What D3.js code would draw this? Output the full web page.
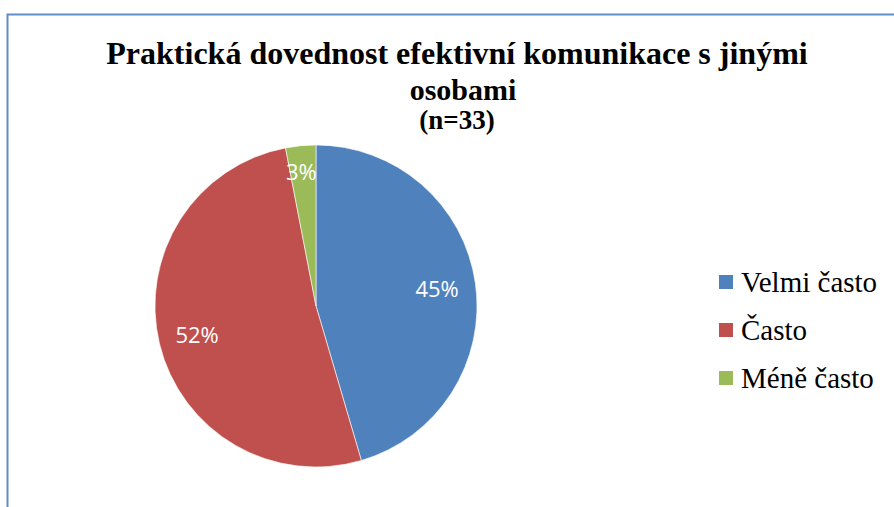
<!DOCTYPE html>
<html>
<head>
<meta charset="utf-8">
<title>Praktická dovednost efektivní komunikace s jinými osobami</title>
<script src="https://cdnjs.cloudflare.com/ajax/libs/d3/7.8.5/d3.min.js"></script>
<style>
    body { margin: 0; background: #fff; }
</style>
</head>
<body>
<div id="chart"></div>
<script>
// data
var categories = ["Velmi často", "Často", "Méně často"];
var counts = [15, 17, 1];          // n = 33
var percentLabels = ["45%", "52%", "3%"];
var colors = ["#4F81BD", "#C0504D", "#9BBB59"];
var titleLines = ["Praktická dovednost efektivní komunikace s jinými", "osobami"];
var subtitle = "(n=33)";

var width = 894, height = 507;
var serif = "'Liberation Serif', 'Times New Roman', Times, serif";

var svg = d3.select("#chart")
    .append("svg")
    .attr("width", width)
    .attr("height", height);

// chart frame (runs off the right and bottom edge like in the picture)
svg.append("rect")
    .attr("x", 7.5)
    .attr("y", 14.5)
    .attr("width", 900)
    .attr("height", 520)
    .attr("fill", "#fff")
    .attr("stroke", "#5f8ec8")
    .attr("stroke-width", 2);

// title
svg.append("text")
    .attr("x", 457).attr("y", 64)
    .attr("text-anchor", "middle")
    .attr("font-family", serif)
    .attr("font-weight", "bold")
    .attr("font-size", 32)
    .text(titleLines[0]);

svg.append("text")
    .attr("x", 463).attr("y", 100)
    .attr("text-anchor", "middle")
    .attr("font-family", serif)
    .attr("font-weight", "bold")
    .attr("font-size", 30)
    .text(titleLines[1]);

svg.append("text")
    .attr("x", 457).attr("y", 129)
    .attr("text-anchor", "middle")
    .attr("font-family", serif)
    .attr("font-weight", "bold")
    .attr("font-size", 27)
    .text(subtitle);

// pie
var cx = 316, cy = 306, radius = 161;

var pie = d3.pie().sort(null).value(function(d) { return d; });
var arc = d3.arc().innerRadius(0).outerRadius(radius);
var labelArc = d3.arc().innerRadius(radius * 0.76).outerRadius(radius * 0.76);

var arcs = pie(counts);

var g = svg.append("g")
    .attr("transform", "translate(" + cx + "," + cy + ")");

g.selectAll("path")
    .data(arcs)
    .enter()
    .append("path")
    .attr("d", arc)
    .attr("fill", function(d, i) { return colors[i]; })
    .attr("stroke", "#fff")
    .attr("stroke-width", 0.6);

g.selectAll("text.pct")
    .data(arcs)
    .enter()
    .append("text")
    .attr("class", "pct")
    .attr("transform", function(d, i) {
        var c = labelArc.centroid(d);
        // small slice label sits closer to the rim
        if (i === 2) { c[0] -= 3; c[1] -= 12; }
        return "translate(" + c[0] + "," + c[1] + ")";
    })
    .attr("text-anchor", "middle")
    .attr("dy", "0.36em")
    .attr("font-family", "'Open Sans', sans-serif")
    .attr("font-size", 22)
    .attr("fill", "#fff")
    .text(function(d, i) { return percentLabels[i]; });

// legend
var legend = svg.append("g")
    .attr("transform", "translate(719,275)");

var item = legend.selectAll("g")
    .data(categories)
    .enter()
    .append("g")
    .attr("transform", function(d, i) { return "translate(0," + (i * 48) + ")"; });

item.append("rect")
    .attr("width", 14)
    .attr("height", 14)
    .attr("fill", function(d, i) { return colors[i]; });

item.append("text")
    .attr("x", 22)
    .attr("y", 17)
    .attr("font-family", serif)
    .attr("font-size", 29)
    .attr("fill", "#000")
    .text(function(d) { return d; });
</script>
</body>
</html>
